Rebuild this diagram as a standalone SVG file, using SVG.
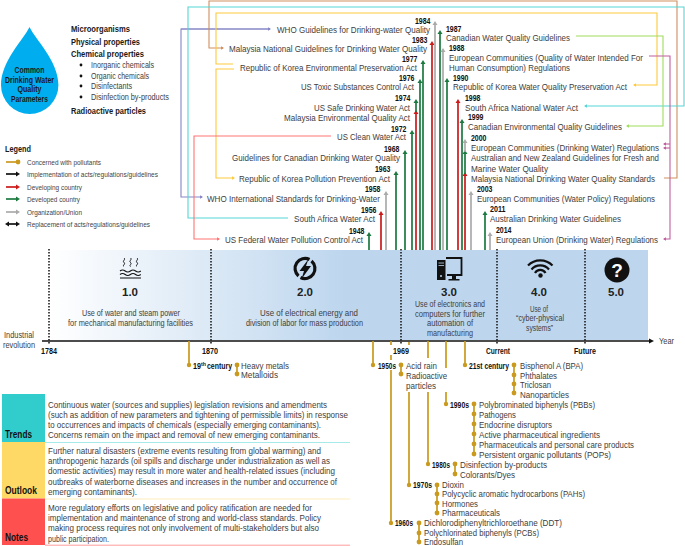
<svg xmlns="http://www.w3.org/2000/svg" width="685" height="546" viewBox="0 0 685 546">
<style>
text{font-family:"Liberation Sans",Arial,sans-serif;font-size:9.4px;fill:#404040}
.y{font-weight:bold;font-size:8.2px;fill:#111}
.s{font-size:8.6px}
.b{font-weight:bold;font-size:9.6px;fill:#1a1a1a}
.l{font-size:7.6px;fill:#444}
.v{font-weight:bold;font-size:11.5px;fill:#222;text-anchor:middle}
.h{font-weight:bold;font-size:10.5px;fill:#111}
.link{fill:none;stroke-width:1.1}
.stem{fill:none;stroke-width:1.7}
.g{stroke:#1c7a40}.r{stroke:#cc1b1b}.k{stroke:#aaaaaa}.bk{stroke:#111}
.gold{fill:none;stroke:#c99a1e;stroke-width:1.7}
.dot{fill:#c99a1e}
</style>
<defs>
<linearGradient id="bar" gradientUnits="userSpaceOnUse" x1="50" y1="0" x2="345" y2="0"><stop offset="0" stop-color="#ffffff"/><stop offset="1" stop-color="#bdd6ee"/></linearGradient>
<marker id="hg" markerUnits="userSpaceOnUse" markerWidth="6" markerHeight="6" refX="2" refY="3" orient="auto"><path d="M0 .5L4 3L0 5.500z" fill="#1c7a40"/></marker>
<marker id="hr" markerUnits="userSpaceOnUse" markerWidth="6" markerHeight="6" refX="2" refY="3" orient="auto"><path d="M0 .5L4 3L0 5.500z" fill="#cc1b1b"/></marker>
<marker id="hk" markerUnits="userSpaceOnUse" markerWidth="6" markerHeight="6" refX="2" refY="3" orient="auto"><path d="M0 .5L4 3L0 5.500z" fill="#aaaaaa"/></marker>
<marker id="hb" markerUnits="userSpaceOnUse" markerWidth="6" markerHeight="6" refX="2" refY="3" orient="auto"><path d="M0 .5L4 3L0 5.500z" fill="#111"/></marker>
<marker id="hbs" markerUnits="userSpaceOnUse" markerWidth="6" markerHeight="6" refX="2" refY="3" orient="auto-start-reverse"><path d="M0 .5L4 3L0 5.500z" fill="#111"/></marker>
<marker id="lp" markerUnits="userSpaceOnUse" markerWidth="5" markerHeight="5" refX="2" refY="2.500" orient="auto"><path d="M0 .7L3 2.500L0 4.300z" fill="#8585c8"/></marker>
<marker id="lb" markerUnits="userSpaceOnUse" markerWidth="5" markerHeight="5" refX="2" refY="2.500" orient="auto"><path d="M0 .7L3 2.500L0 4.300z" fill="#cf8f5f"/></marker>
<marker id="lt" markerUnits="userSpaceOnUse" markerWidth="5" markerHeight="5" refX="2" refY="2.500" orient="auto"><path d="M0 .7L3 2.500L0 4.300z" fill="#55d6d6"/></marker>
<marker id="ly" markerUnits="userSpaceOnUse" markerWidth="5" markerHeight="5" refX="2" refY="2.500" orient="auto"><path d="M0 .7L3 2.500L0 4.300z" fill="#ffc93c"/></marker>
<marker id="ls" markerUnits="userSpaceOnUse" markerWidth="5" markerHeight="5" refX="2" refY="2.500" orient="auto"><path d="M0 .7L3 2.500L0 4.300z" fill="#ff7474"/></marker>
<marker id="lg" markerUnits="userSpaceOnUse" markerWidth="5" markerHeight="5" refX="2" refY="2.500" orient="auto"><path d="M0 .7L3 2.500L0 4.300z" fill="#9fdc5c"/></marker>
<marker id="lm" markerUnits="userSpaceOnUse" markerWidth="5" markerHeight="5" refX="2" refY="2.500" orient="auto"><path d="M0 .7L3 2.500L0 4.300z" fill="#bf5f9f"/></marker>
<marker id="ax" markerUnits="userSpaceOnUse" markerWidth="7" markerHeight="7" refX="1" refY="3.500" orient="auto"><path d="M0 1L5 3.500L0 6z" fill="#111"/></marker>
</defs>

<g id="timeline-bar">
<rect x="50" y="250" width="598" height="90" fill="url(#bar)"/>
</g>

<g id="connectors">
<path class="link" stroke="#8585c8" marker-end="url(#lp)" d="M270 29H181V197H202"/>
<path class="link" stroke="#8585c8" marker-start="url(#lp)" d="M181 29H270" style="marker-start:none"/>
<path d="M268 27.200L271 29L268 30.800z" fill="#8585c8"/>
<path class="link" stroke="#cf8f5f" marker-end="url(#lb)" d="M664 178H677V1H209V48H223" stroke-width="1.200"/>
<path class="link" stroke="#55d6d6" marker-end="url(#lt)" d="M288 218H188V7H684V106H585"/>
<path class="link" stroke="#ffc93c" marker-end="url(#ly)" d="M233 64H216V13H657V85H634"/>
<path class="link" stroke="#ffc93c" marker-end="url(#ly)" d="M234 69H216V178H234"/>
<path class="link" stroke="#ff7474" marker-end="url(#ls)" d="M331 136H194V239H219"/>
<path class="link" stroke="#9fdc5c" marker-end="url(#lg)" d="M576 36H663V126H627"/>
<path class="link" stroke="#bf5f9f" marker-end="url(#lm)" d="M649 56H670V239H664"/>
<path class="link" stroke="#bf5f9f" marker-end="url(#lm)" d="M670 144H664"/>
<path class="link" stroke="#bf5f9f" marker-end="url(#lm)" d="M670 148H664"/>

<path class="stem g" marker-end="url(#hg)" d="M369 250V234"/>
<path class="stem r" marker-end="url(#hr)" d="M381 250V213"/>
<path class="stem k" marker-end="url(#hk)" d="M386 250V193"/>
<path class="stem g" marker-end="url(#hg)" d="M396 250V173"/>
<path class="stem g" marker-end="url(#hg)" d="M405 250V152"/>
<path class="stem g" marker-end="url(#hg)" d="M412 250V132"/>
<path class="stem r" marker-end="url(#hr)" d="M416 250V112"/>
<path class="stem g" marker-end="url(#hg)" d="M416 112V101"/>
<path class="stem g" marker-end="url(#hg)" d="M420 250V81"/>
<path class="stem g" marker-end="url(#hg)" d="M423 250V62"/>
<path class="stem r" marker-end="url(#hr)" d="M432 250V43"/>
<path class="stem k" marker-end="url(#hk)" d="M435 250V23"/>
<path class="stem g" marker-end="url(#hg)" d="M440 250V32"/>
<path class="stem k" marker-end="url(#hk)" d="M443 250V50"/>
<path class="stem g" marker-end="url(#hg)" d="M447 250V80"/>
<path class="stem r" marker-end="url(#hr)" d="M458 250V101"/>
<path class="stem g" marker-end="url(#hg)" d="M462 250V121"/>
<path class="stem r" marker-end="url(#hr)" d="M465 250V174"/>
<path class="stem g" marker-end="url(#hg)" d="M465 174V152"/>
<path class="stem k" marker-end="url(#hk)" d="M465 152V141"/>
<path class="stem k" marker-end="url(#hk)" d="M471 250V193"/>
<path class="stem g" marker-end="url(#hg)" d="M485 250V213"/>
<path class="stem k" marker-end="url(#hk)" d="M490 250V234"/>

<path d="M49 249V344M211 249V344M401 249V344M497 249V344M585 249V344" fill="none" stroke="#111" stroke-width="1.500" stroke-dasharray="1.500 1.500"/>
<path d="M42 341H650" fill="none" stroke="#111" stroke-width="1.600" marker-end="url(#ax)"/>

<path class="gold" d="M189 341V365M237 365V374"/>
<path class="gold" d="M373 341V365M401 365V374"/>
<path class="gold" d="M391 341V345M391 355V360M391 370V523M419 523V542"/>
<path class="gold" d="M409 342V345M409 392V485M437 485V513"/>
<path class="gold" d="M428 341V358M428 392V464M455 464V474"/>
<path class="gold" d="M446 341V368M446 392V404M474 404V454"/>
<path class="gold" d="M465 341V365M514 365V393"/>
</g>

<g id="dots" class="dot">
<circle cx="189" cy="365" r="2.200"/><circle cx="237" cy="365" r="2.400"/><circle cx="237" cy="374" r="2.400"/>
<circle cx="373" cy="365" r="2.200"/><circle cx="401" cy="365" r="2.400"/><circle cx="401" cy="374" r="2.400"/>
<circle cx="465" cy="365" r="2.200"/><circle cx="514" cy="365" r="2.400"/><circle cx="514" cy="375" r="2.400"/><circle cx="514" cy="384" r="2.400"/><circle cx="514" cy="393" r="2.400"/>
<circle cx="446" cy="404" r="2.200"/><circle cx="474" cy="404" r="2.400"/><circle cx="474" cy="414" r="2.400"/><circle cx="474" cy="424" r="2.400"/><circle cx="474" cy="434" r="2.400"/><circle cx="474" cy="444" r="2.400"/><circle cx="474" cy="454" r="2.400"/>
<circle cx="428" cy="464" r="2.200"/><circle cx="455" cy="464" r="2.400"/><circle cx="455" cy="474" r="2.400"/>
<circle cx="409" cy="485" r="2.200"/><circle cx="437" cy="485" r="2.400"/><circle cx="437" cy="494" r="2.400"/><circle cx="437" cy="503" r="2.400"/><circle cx="437" cy="513" r="2.400"/>
<circle cx="391" cy="523" r="2.200"/><circle cx="419" cy="523" r="2.400"/><circle cx="419" cy="533" r="2.400"/><circle cx="419" cy="542" r="2.400"/>
</g>

<g id="parameters-drop">
<path d="M29.500 27C24 39 1 61 1 85A28.700 29 0 0 0 58.400 85C58.400 61 35 39 29.500 27Z" fill="#00aeef"/>
<text class="b" x="14.500" y="72.500" textLength="30" lengthAdjust="spacingAndGlyphs" style="font-size:8.400px">Common</text>
<text class="b" x="5" y="82.500" textLength="49" lengthAdjust="spacingAndGlyphs" style="font-size:8.400px">Drinking Water</text>
<text class="b" x="17.500" y="92" textLength="24" lengthAdjust="spacingAndGlyphs" style="font-size:8.400px">Quality</text>
<text class="b" x="11" y="101.500" textLength="37" lengthAdjust="spacingAndGlyphs" style="font-size:8.400px">Parameters</text>
</g>

<g id="parameters-list">
<text class="b" x="71" y="32" textLength="59" lengthAdjust="spacingAndGlyphs">Microorganisms</text>
<text class="b" x="71" y="44.500" textLength="69" lengthAdjust="spacingAndGlyphs">Physical properties</text>
<text class="b" x="71" y="57" textLength="73" lengthAdjust="spacingAndGlyphs">Chemical properties</text>
<circle cx="81" cy="65" r="1.400" fill="#111"/><circle cx="81" cy="76" r="1.400" fill="#111"/><circle cx="81" cy="86" r="1.400" fill="#111"/><circle cx="81" cy="97" r="1.400" fill="#111"/>
<text class="s" x="91" y="68" textLength="63" lengthAdjust="spacingAndGlyphs">Inorganic chemicals</text>
<text class="s" x="91" y="79" textLength="58" lengthAdjust="spacingAndGlyphs">Organic chemicals</text>
<text class="s" x="91" y="89" textLength="41" lengthAdjust="spacingAndGlyphs">Disinfectants</text>
<text class="s" x="91" y="100" textLength="78" lengthAdjust="spacingAndGlyphs">Disinfection by-products</text>
<text class="b" x="71" y="114" textLength="75" lengthAdjust="spacingAndGlyphs">Radioactive particles</text>
</g>

<g id="legend">
<text class="b" x="5" y="151.500" textLength="26" lengthAdjust="spacingAndGlyphs">Legend</text>
<path class="stem" stroke="#c99a1e" d="M6 162H18"/><circle cx="18" cy="162" r="2.400" fill="#c99a1e"/>
<path class="stem bk" marker-end="url(#hb)" d="M6 174H18"/>
<path class="stem r" marker-end="url(#hr)" d="M6 187H18"/>
<path class="stem g" marker-end="url(#hg)" d="M6 199H18"/>
<path class="stem k" marker-end="url(#hk)" d="M6 212H18"/>
<path class="stem bk" marker-start="url(#hbs)" marker-end="url(#hbs)" d="M7 224H18"/>
<text class="l" x="27" y="164.500" textLength="74" lengthAdjust="spacingAndGlyphs">Concerned with pollutants</text>
<text class="l" x="27" y="177" textLength="131" lengthAdjust="spacingAndGlyphs">Implementation of acts/regulations/guidelines</text>
<text class="l" x="27" y="189.500" textLength="55" lengthAdjust="spacingAndGlyphs">Developing country</text>
<text class="l" x="27" y="202" textLength="53" lengthAdjust="spacingAndGlyphs">Developed country</text>
<text class="l" x="27" y="215" textLength="55" lengthAdjust="spacingAndGlyphs">Organization/Union</text>
<text class="l" x="27" y="227" textLength="123" lengthAdjust="spacingAndGlyphs">Replacement of acts/regulations/guidelines</text>
</g>

<g id="acts-left">
<g id="e1984"><text class="y" x="415" y="23.500" textLength="15.500" lengthAdjust="spacingAndGlyphs">1984</text><text x="277" y="33" textLength="153" lengthAdjust="spacingAndGlyphs">WHO Guidelines for Drinking-water Quality</text></g>
<g id="e1983"><text class="y" x="412" y="42.500" textLength="15.500" lengthAdjust="spacingAndGlyphs">1983</text><text x="229" y="51.500" textLength="198" lengthAdjust="spacingAndGlyphs">Malaysia National Guidelines for Drinking Water Quality</text></g>
<g id="e1977"><text class="y" x="402" y="62" textLength="15.500" lengthAdjust="spacingAndGlyphs">1977</text><text x="240" y="70.500" textLength="177" lengthAdjust="spacingAndGlyphs">Republic of Korea Environmental Preservation Act</text></g>
<g id="e1976"><text class="y" x="399" y="80.500" textLength="15.500" lengthAdjust="spacingAndGlyphs">1976</text><text x="301" y="90" textLength="113" lengthAdjust="spacingAndGlyphs">US Toxic Substances Control Act</text></g>
<g id="e1974"><text class="y" x="395" y="101" textLength="15.500" lengthAdjust="spacingAndGlyphs">1974</text><text x="314" y="110.500" textLength="96" lengthAdjust="spacingAndGlyphs">US Safe Drinking Water Act</text></g>
<g id="e1974b"><text x="284" y="121" textLength="126" lengthAdjust="spacingAndGlyphs">Malaysia Environmental Quality Act</text></g>
<g id="e1972"><text class="y" x="391" y="131.500" textLength="15.500" lengthAdjust="spacingAndGlyphs">1972</text><text x="337" y="140" textLength="69" lengthAdjust="spacingAndGlyphs">US Clean Water Act</text></g>
<g id="e1968"><text class="y" x="384" y="151.500" textLength="15.500" lengthAdjust="spacingAndGlyphs">1968</text><text x="232" y="161" textLength="168" lengthAdjust="spacingAndGlyphs">Guidelines for Canadian Drinking Water Quality</text></g>
<g id="e1963"><text class="y" x="375" y="171.500" textLength="15.500" lengthAdjust="spacingAndGlyphs">1963</text><text x="239" y="181.500" textLength="151" lengthAdjust="spacingAndGlyphs">Republic of Korea Pollution Prevention Act</text></g>
<g id="e1958"><text class="y" x="365" y="191.500" textLength="15.500" lengthAdjust="spacingAndGlyphs">1958</text><text x="207" y="202" textLength="173" lengthAdjust="spacingAndGlyphs">WHO International Standards for Drinking-Water</text></g>
<g id="e1956"><text class="y" x="361" y="212.500" textLength="15.500" lengthAdjust="spacingAndGlyphs">1956</text><text x="294" y="222" textLength="81" lengthAdjust="spacingAndGlyphs">South Africa Water Act</text></g>
<g id="e1948"><text class="y" x="349" y="233.500" textLength="15.500" lengthAdjust="spacingAndGlyphs">1948</text><text x="225" y="243" textLength="138" lengthAdjust="spacingAndGlyphs">US Federal Water Pollution Control Act</text></g>
</g>

<g id="acts-right">
<g id="e1987"><text class="y" x="446" y="32" textLength="15.500" lengthAdjust="spacingAndGlyphs">1987</text><text x="446" y="41" textLength="124" lengthAdjust="spacingAndGlyphs">Canadian Water Quality Guidelines</text></g>
<g id="e1988"><text class="y" x="449" y="51" textLength="15.500" lengthAdjust="spacingAndGlyphs">1988</text><text x="449" y="60.500" textLength="194" lengthAdjust="spacingAndGlyphs">European Communities (Quality of Water Intended For</text><text x="449" y="71" textLength="121" lengthAdjust="spacingAndGlyphs">Human Consumption) Regulations</text></g>
<g id="e1990"><text class="y" x="453" y="80.500" textLength="15.500" lengthAdjust="spacingAndGlyphs">1990</text><text x="453" y="90" textLength="174" lengthAdjust="spacingAndGlyphs">Republic of Korea Water Quality Preservation Act</text></g>
<g id="e1998"><text class="y" x="465" y="101" textLength="15.500" lengthAdjust="spacingAndGlyphs">1998</text><text x="465" y="110.500" textLength="113" lengthAdjust="spacingAndGlyphs">South Africa National Water Act</text></g>
<g id="e1999"><text class="y" x="468" y="120" textLength="15.500" lengthAdjust="spacingAndGlyphs">1999</text><text x="468" y="130" textLength="154" lengthAdjust="spacingAndGlyphs">Canadian Environmental Quality Guidelines</text></g>
<g id="e2000"><text class="y" x="471" y="140.500" textLength="15.500" lengthAdjust="spacingAndGlyphs">2000</text><text x="471" y="150.500" textLength="188" lengthAdjust="spacingAndGlyphs">European Communities (Drinking Water) Regulations</text></g>
<g id="e2000b"><text x="471" y="161" textLength="188" lengthAdjust="spacingAndGlyphs">Australian and New Zealand Guidelines for Fresh and</text><text x="471" y="171.500" textLength="77" lengthAdjust="spacingAndGlyphs">Marine Water Quality</text></g>
<g id="e2000c"><text x="471" y="182" textLength="184" lengthAdjust="spacingAndGlyphs">Malaysia National Drinking Water Quality Standards</text></g>
<g id="e2003"><text class="y" x="477" y="192" textLength="15.500" lengthAdjust="spacingAndGlyphs">2003</text><text x="477" y="202" textLength="178" lengthAdjust="spacingAndGlyphs">European Communities (Water Policy) Regulations</text></g>
<g id="e2011"><text class="y" x="490" y="212" textLength="15.500" lengthAdjust="spacingAndGlyphs">2011</text><text x="490" y="222" textLength="131" lengthAdjust="spacingAndGlyphs">Australian Drinking Water Guidelines</text></g>
<g id="e2014"><text class="y" x="496" y="233" textLength="15.500" lengthAdjust="spacingAndGlyphs">2014</text><text x="496" y="243" textLength="162" lengthAdjust="spacingAndGlyphs">European Union (Drinking Water) Regulations</text></g>
</g>

<g id="stage-1">
<path d="M124 258c2 1.500-2 3 0 4.500s-2 3 0 4M130.500 258c2 1.500-2 3 0 4.500s-2 3 0 4M137 258c2 1.500-2 3 0 4.500s-2 3 0 4" fill="none" stroke="#111" stroke-width="1"/>
<path d="M120 271q2.600-2 5.200 0t5.200 0 5.200 0 5.200 0M120 274.500q2.600-2 5.200 0t5.200 0 5.200 0 5.200 0M120 278h21" fill="none" stroke="#111" stroke-width="1.200"/>
<text class="v" x="130" y="296">1.0</text>
<text class="s" x="82" y="316" textLength="98" lengthAdjust="spacingAndGlyphs">Use of water and steam power</text>
<text class="s" x="68" y="326" textLength="125" lengthAdjust="spacingAndGlyphs">for mechanical manufacturing facilities</text>
</g>
<g id="stage-2">
<path d="M309.500 259.500A10 10 0 0 0 298.500 276M300.500 277.500A10 10 0 0 0 311.500 261" fill="none" stroke="#111" stroke-width="3.200"/>
<path d="M308.500 259L299.500 271H304L301.500 279L311 266H306Z" fill="#111"/>
<text class="v" x="305" y="296">2.0</text>
<text class="s" x="260" y="316" textLength="98" lengthAdjust="spacingAndGlyphs">Use of electrical energy and</text>
<text class="s" x="246" y="326" textLength="117" lengthAdjust="spacingAndGlyphs">division of labor for mass production</text>
</g>
<g id="stage-3">
<rect x="437" y="260" width="8.500" height="20" fill="#111"/><path d="M438.500 263h5.500M438.500 265.500h5.500" stroke="#bdd6ee" stroke-width="0.800"/><circle cx="441" cy="276" r="1" fill="#bdd6ee"/>
<path d="M446 258H461.500V275H447" fill="none" stroke="#111" stroke-width="1.800"/>
<path d="M452 276H456V279H459.500V280.500H448.500V279H452Z" fill="#111"/>
<text class="v" x="449" y="296">3.0</text>
<text class="s" x="415" y="307" textLength="70" lengthAdjust="spacingAndGlyphs">Use of electronics and</text>
<text class="s" x="415" y="316.500" textLength="70" lengthAdjust="spacingAndGlyphs">computers for further</text>
<text class="s" x="427" y="326" textLength="46" lengthAdjust="spacingAndGlyphs">automation of</text>
<text class="s" x="427" y="336" textLength="46" lengthAdjust="spacingAndGlyphs">manufacturing</text>
</g>
<g id="stage-4">
<path d="M528 265.500A17 17 0 0 1 552.500 265.500M531.500 269.500A11.500 11.500 0 0 1 549 269.500M535 273A6 6 0 0 1 545.500 273" fill="none" stroke="#111" stroke-width="2.200"/>
<circle cx="540.500" cy="275.500" r="2.200" fill="#111"/>
<text class="v" x="539" y="296">4.0</text>
<text class="s" x="530" y="311.500" textLength="18" lengthAdjust="spacingAndGlyphs">Use of</text>
<text class="s" x="516" y="321" textLength="48" lengthAdjust="spacingAndGlyphs">“cyber-physical</text>
<text class="s" x="526" y="331" textLength="27" lengthAdjust="spacingAndGlyphs">systems”</text>
</g>
<g id="stage-5">
<circle cx="617" cy="270" r="12.500" fill="#111"/>
<text x="617" y="277" text-anchor="middle" style="font-size:19px;font-weight:bold;fill:#fff">?</text>
<text class="v" x="616" y="296">5.0</text>
</g>

<g id="axis-labels">
<text class="s" x="4" y="338" textLength="30" lengthAdjust="spacingAndGlyphs">Industrial</text>
<text class="s" x="3" y="347.500" textLength="32" lengthAdjust="spacingAndGlyphs">revolution</text>
<text class="y" x="41" y="354" textLength="16" lengthAdjust="spacingAndGlyphs">1784</text>
<text class="y" x="202" y="354" textLength="16" lengthAdjust="spacingAndGlyphs">1870</text>
<text class="y" x="393" y="354" textLength="16" lengthAdjust="spacingAndGlyphs">1969</text>
<text class="y" x="486" y="354" textLength="24" lengthAdjust="spacingAndGlyphs">Current</text>
<text class="y" x="574" y="354" textLength="22" lengthAdjust="spacingAndGlyphs">Future</text>
<text class="s" x="659" y="343.500" textLength="15" lengthAdjust="spacingAndGlyphs">Year</text>
</g>

<g id="pollutants-19c">
<text class="y" x="193" y="368.500" textLength="8" lengthAdjust="spacingAndGlyphs">19</text>
<text class="y" x="201" y="365.500" textLength="5" lengthAdjust="spacingAndGlyphs" style="font-size:5.500px">th</text>
<text class="y" x="207" y="368.500" textLength="25" lengthAdjust="spacingAndGlyphs">century</text>
<text x="241" y="368.500" textLength="48" lengthAdjust="spacingAndGlyphs">Heavy metals</text>
<text x="241" y="378" textLength="37" lengthAdjust="spacingAndGlyphs">Metalloids</text>
</g>
<g id="pollutants-1950s">
<text class="y" x="378" y="368.500" textLength="18" lengthAdjust="spacingAndGlyphs">1950s</text>
<text x="406" y="369" textLength="31" lengthAdjust="spacingAndGlyphs">Acid rain</text>
<text x="406" y="379" textLength="41" lengthAdjust="spacingAndGlyphs">Radioactive</text>
<text x="406" y="389" textLength="30" lengthAdjust="spacingAndGlyphs">particles</text>
</g>
<g id="pollutants-21c">
<text class="y" x="469" y="368.500" textLength="40" lengthAdjust="spacingAndGlyphs">21st century</text>
<text x="520" y="368.500" textLength="63" lengthAdjust="spacingAndGlyphs">Bisphenol A (BPA)</text>
<text x="520" y="378.500" textLength="37" lengthAdjust="spacingAndGlyphs">Phthalates</text>
<text x="520" y="388" textLength="31" lengthAdjust="spacingAndGlyphs">Triclosan</text>
<text x="520" y="397.500" textLength="49" lengthAdjust="spacingAndGlyphs">Nanoparticles</text>
</g>
<g id="pollutants-1990s">
<text class="y" x="450" y="407.500" textLength="19" lengthAdjust="spacingAndGlyphs">1990s</text>
<text x="479" y="407.500" textLength="116" lengthAdjust="spacingAndGlyphs">Polybrominated biphenyls (PBBs)</text>
<text x="479" y="417.500" textLength="37" lengthAdjust="spacingAndGlyphs">Pathogens</text>
<text x="479" y="427.500" textLength="73" lengthAdjust="spacingAndGlyphs">Endocrine disruptors</text>
<text x="479" y="437.500" textLength="121" lengthAdjust="spacingAndGlyphs">Active pharmaceutical ingredients</text>
<text x="479" y="447.500" textLength="155" lengthAdjust="spacingAndGlyphs">Pharmaceuticals and personal care products</text>
<text x="479" y="457.500" textLength="132" lengthAdjust="spacingAndGlyphs">Persistent organic pollutants (POPs)</text>
</g>
<g id="pollutants-1980s">
<text class="y" x="432" y="467.500" textLength="18" lengthAdjust="spacingAndGlyphs">1980s</text>
<text x="460" y="467.500" textLength="87" lengthAdjust="spacingAndGlyphs">Disinfection by-products</text>
<text x="460" y="477.500" textLength="55" lengthAdjust="spacingAndGlyphs">Colorants/Dyes</text>
</g>
<g id="pollutants-1970s">
<text class="y" x="413" y="488" textLength="19" lengthAdjust="spacingAndGlyphs">1970s</text>
<text x="442" y="487.500" textLength="22" lengthAdjust="spacingAndGlyphs">Dioxin</text>
<text x="442" y="497" textLength="143" lengthAdjust="spacingAndGlyphs">Polycyclic aromatic hydrocarbons (PAHs)</text>
<text x="442" y="506.500" textLength="36" lengthAdjust="spacingAndGlyphs">Hormones</text>
<text x="442" y="516" textLength="58" lengthAdjust="spacingAndGlyphs">Pharmaceuticals</text>
</g>
<g id="pollutants-1960s">
<text class="y" x="395" y="526" textLength="18" lengthAdjust="spacingAndGlyphs">1960s</text>
<text x="424" y="526" textLength="138" lengthAdjust="spacingAndGlyphs">Dichlorodiphenyltrichloroethane (DDT)</text>
<text x="424" y="536" textLength="115" lengthAdjust="spacingAndGlyphs">Polychlorinated biphenyls (PCBs)</text>
<text x="424" y="545" textLength="39" lengthAdjust="spacingAndGlyphs">Endosulfan</text>
</g>

<g id="trends">
<rect x="2" y="394" width="43" height="48" fill="#31cdcc"/>
<path d="M45 442.500H350" stroke="#a6eaea" stroke-width="1"/>
<text class="h" x="5" y="437.500" textLength="27" lengthAdjust="spacingAndGlyphs">Trends</text>
<text x="48" y="407.500" textLength="279" lengthAdjust="spacingAndGlyphs">Continuous water (sources and supplies) legislation revisions and amendments</text>
<text x="48" y="417.500" textLength="300" lengthAdjust="spacingAndGlyphs">(such as addition of new parameters and tightening of permissible limits) in response</text>
<text x="48" y="427.500" textLength="273" lengthAdjust="spacingAndGlyphs">to occurrences and impacts of chemicals (especially emerging contaminants).</text>
<text x="48" y="437.500" textLength="272" lengthAdjust="spacingAndGlyphs">Concerns remain on the impact and removal of new emerging contaminants.</text>
</g>
<g id="outlook">
<rect x="2" y="442" width="43" height="56.500" fill="#ffd966"/>
<path d="M45 499H350" stroke="#ffeebb" stroke-width="1"/>
<text class="h" x="5" y="493.500" textLength="32" lengthAdjust="spacingAndGlyphs">Outlook</text>
<text x="48" y="453.500" textLength="273" lengthAdjust="spacingAndGlyphs">Further natural disasters (extreme events resulting from global warming) and</text>
<text x="48" y="464" textLength="282" lengthAdjust="spacingAndGlyphs">anthropogenic hazards (oil spills and discharge under industrialization as well as</text>
<text x="48" y="474" textLength="287" lengthAdjust="spacingAndGlyphs">domestic activities) may result in more water and health-related issues (including</text>
<text x="48" y="484.500" textLength="289" lengthAdjust="spacingAndGlyphs">outbreaks of waterborne diseases and increases in the number and occurrence of</text>
<text x="48" y="495" textLength="89" lengthAdjust="spacingAndGlyphs">emerging contaminants).</text>
</g>
<g id="notes">
<rect x="2" y="498.500" width="43" height="46.500" fill="#ff5050"/>
<path d="M45 545.200H350" stroke="#ff9c9c" stroke-width="1"/>
<text class="h" x="5" y="540.500" textLength="23" lengthAdjust="spacingAndGlyphs">Notes</text>
<text x="48" y="511" textLength="264" lengthAdjust="spacingAndGlyphs">More regulatory efforts on legislative and policy ratification are needed for</text>
<text x="48" y="521" textLength="273" lengthAdjust="spacingAndGlyphs">implementation and maintenance of strong and world-class standards. Policy</text>
<text x="48" y="531" textLength="271" lengthAdjust="spacingAndGlyphs">making process requires not only involvement of multi-stakeholders but also</text>
<text x="48" y="541.500" textLength="61" lengthAdjust="spacingAndGlyphs">public participation.</text>
</g>
</svg>
